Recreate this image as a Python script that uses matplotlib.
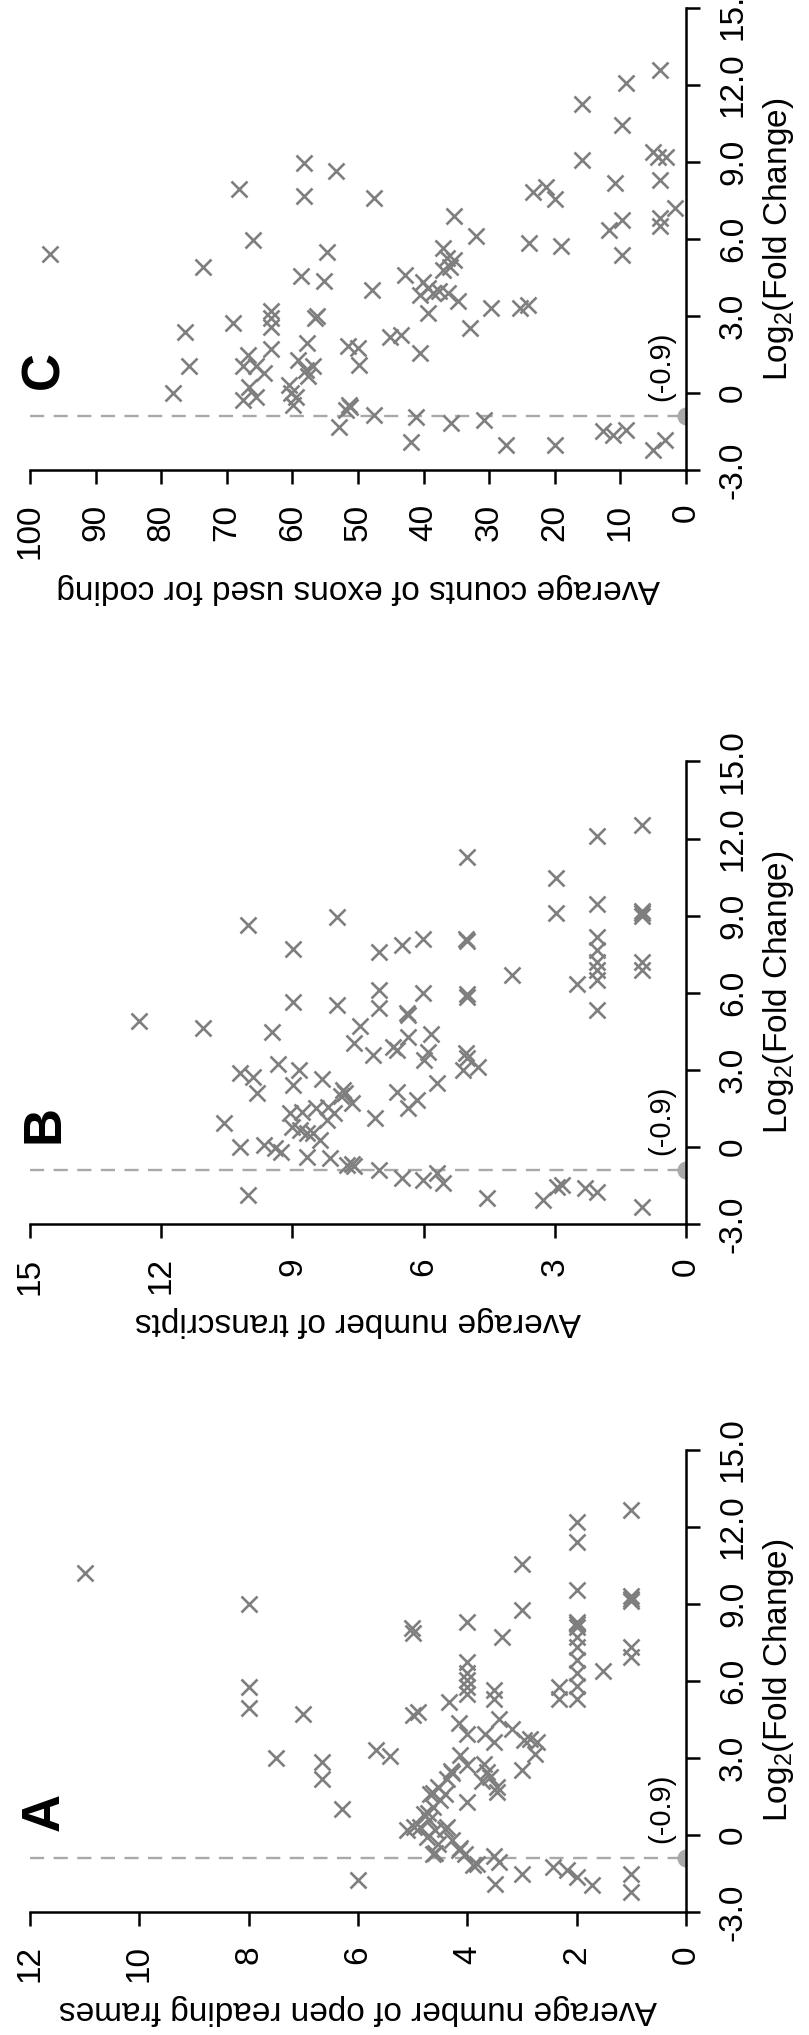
import numpy as np
import matplotlib
matplotlib.use('Agg')
import matplotlib.pyplot as plt
from matplotlib.transforms import blended_transform_factory

plt.rcParams['font.family'] = ['Liberation Sans', 'DejaVu Sans']
plt.rcParams['mathtext.fontset'] = 'custom'
plt.rcParams['mathtext.rm'] = 'Liberation Sans'

# Panel A: average number of open reading frames vs log2 fold change
a_count = [11.0, 8.0, 8.0, 8.0, 7.0, 7.5, 6.66, 6.66, 6.3, 6.0, 5.67, 5.41,
           5.0, 5.02, 4.99, 4.9, 4.33,
           4.0, 4.0, 4.0, 4.0, 4.0, 4.0, 4.0, 4.0, 4.0, 4.16, 4.13,
           3.0, 3.0, 3.0, 3.0, 3.37,
           2.0, 2.0, 2.0, 2.0, 2.0, 2.0, 2.0, 2.0, 2.0, 2.0, 2.0, 2.0, 2.0,
           1.0, 1.0, 1.0, 1.0, 1.0, 1.0, 1.0, 1.0,
           1.51, 2.33, 2.33, 3.52, 3.52,
           3.43, 3.19, 3.67, 3.52,
           2.97, 2.85, 2.73, 2.76,
           3.7, 3.64, 3.73, 3.58, 3.46, 3.46,
           4.3, 4.37, 4.28,
           2.43, 2.18, 1.72, 3.49, 3.83, 3.52, 3.43, 4.16, 4.04, 4.62, 4.28,
           4.53, 4.74, 4.59, 4.41, 4.86, 5.1, 4.98, 4.71, 4.8, 4.62, 4.5,
           4.68, 4.41, 4.53, 4.63, 4.72, 4.37, 4.59, 4.13, 3.89]
a_lfc = [10.2, 9.0, 5.75, 4.94, 4.70, 3.0, 2.85, 2.16, 1.0, -1.76, 3.3, 3.07,
         7.85, 8.05, 4.67, 4.78, 5.17,
         8.28, 6.73, 6.30, 6.03, 5.75, 5.50, 3.94, 2.71, 1.28, 4.35, 3.1,
         10.55, 8.74, 2.51, -1.51, 7.70,
         12.17, 11.40, 9.52, 8.3, 8.2, 8.1, 7.7, 7.3, 6.8, 6.3, 5.8, 5.3, -1.64,
         12.63, 9.3, 9.2, 9.1, 7.31, 6.92, -1.51, -2.22,
         6.40, 5.75, 5.30, 5.63, 5.30,
         4.52, 4.13, 3.94, 3.61,
         3.68, 3.74, 3.61, 3.16,
         2.77, 2.45, 2.12, 2.25, 1.86, 1.67,
         2.5, 2.19, 2.41,
         -1.25, -1.38, -1.96, -1.9, -1.12, -0.8, -1.05, -0.6, -0.73, -0.73, -0.21,
         -0.34, -0.08, 0.18, 0.24, 0.31, 0.18, 0.31, 0.57, 0.83, 1.09, 1.35,
         1.6, 1.6, 1.86, 1.63, 0.85, 0.31, -0.70, -0.51, -1.17]

# Panel B: average number of transcripts vs log2 fold change
b_count = [12.5, 11.04, 10.02, 10.56, 10.21, 10.02, 10.21, 9.89, 9.82, 9.66, 9.4, 9.25,
           9.47, 9.34, 8.99, 8.99, 8.86, 8.99, 8.33, 7.99, 7.99,
           9.05, 8.79, 8.45, 8.18, 8.06, 9.02, 8.83, 8.67, 8.52, 8.37, 8.22, 8.67, 8.14,
           7.85, 7.8, 7.9, 7.64, 7.76, 7.64, 7.6, 7.45, 7.59, 7.16, 7.11, 7.03, 7.03,
           7.03, 7.03,
           6.69, 6.62, 6.62, 6.5, 6.5, 6.35, 6.35, 6.39, 6.35, 6.16, 6.02, 6.02, 6.02,
           6.0, 5.89, 5.82, 5.7, 5.55, 5.69,
           5.02, 5.0, 5.0, 5.0, 5.0, 5.02, 5.0, 5.09, 4.75, 4.56,
           3.99, 3.26, 2.97, 2.97, 2.96, 2.84, 2.5, 2.31, 2.03,
           2.03, 2.03, 2.03, 2.03, 2.03, 2.03, 2.03, 2.03,
           1.01, 1.01, 1.01, 1.01, 1.01, 1.01, 1.01]
b_lfc = [4.9, 4.62, 8.64, 0.92, 0.01, -1.87, 2.87, 2.74, 2.09, 0.08, -0.05, -0.18,
         4.49, 3.23, 7.69, 5.65, 3.0, 2.41, 2.63, 8.96, 5.53,
         1.31, 1.37, 1.5, 1.57, 1.31, 0.79, 0.66, 0.53, 0.53, 0.27, 1.05, -0.38, -0.44,
         2.2, 2.1, 2.0, 1.73, -0.7, -0.65, -0.75, 4.71, 4.03, 3.58, 1.12, 7.6, 6.11,
         5.4, -0.9,
         3.9, 3.77, 2.15, 7.86, -1.22, 4.29, 5.14, 5.2, 1.5, 1.83, 8.08, 5.98, -1.28,
         3.39, 3.71, 4.4, -1.02, -1.41, 2.5,
         8.1, 8.0, 5.85, 5.95, 11.30, 3.65, 3.45, 3.0, 3.13, -2.0,
         6.7, -2.06, 10.45, 9.09, -1.54, -1.48, 6.34, -1.6, -1.74,
         12.10, 9.45, 8.18, 7.66, 7.2, 6.9, 6.5, 5.33,
         12.53, 9.2, 9.0, 9.1, 7.2, 6.9, -2.32]

# Panel C: average counts of exons used for coding vs log2 fold change
c_count = [97.0, 78.2, 76.3, 75.8, 73.7, 69.1, 68.2, 67.6, 66.8, 66.6, 67.6, 65.5,
           65.5, 64.3, 65.95,
           63.3, 63.3, 63.3, 63.3,
           60.5, 60.2, 59.9, 59.4, 59.2, 58.7, 58.3, 58.3, 57.8, 57.9, 57.7, 56.9,
           56.5, 56.2, 55.2, 54.7, 53.3,
           52.9, 51.6, 51.4, 51.8, 51.2, 50.0, 49.8, 47.8, 47.5, 47.5,
           45.2, 43.4,
           42.9, 42.0, 41.1, 40.6, 40.1, 40.6, 39.3, 39.3, 38.6, 37.6, 36.3, 37.0,
           36.5, 35.3, 37.0, 36.0, 35.3, 35.8, 34.8, 33.0, 32.0, 30.8, 29.8, 27.5,
           25.3, 24.1, 23.9, 23.4, 21.3, 19.9, 19.9, 19.0, 15.8, 15.8, 12.6, 11.7,
           11.1, 10.8, 9.8, 9.8, 9.8, 9.1, 9.1, 5.0, 4.2, 3.0, 4.0, 4.0, 4.0, 4.0,
           1.7, 5.0, 3.2]
c_lfc = [5.4, 0.0, 2.4, 1.04, 4.93, 2.72, 7.94, 1.04, 1.49, 0.26, -0.26, -0.13,
         1.04, 0.78, 5.97,
         3.18, 2.92, 2.59, 1.71,
         0.32, 0.0, -0.45, -0.13, 1.3, 4.57, 8.95, 7.68, 1.95, 0.9, 0.65, 1.04,
         2.92, 3.0, 4.35, 5.51, 8.63,
         -1.3, 1.82, -0.45, -0.65, -0.55, 1.75, 1.1, 4.02, 7.59, -0.84,
         2.2, 2.27,
         4.6, -1.88, -0.91, 1.56, 4.34, 3.83, 4.09, 3.11, 3.89, 3.96, 3.89, 5.64,
         5.25, 5.19, 4.8, 4.93, 6.9, -1.17, 3.57, 2.53, 6.1, -1.06, 3.31, -2.01,
         3.31, 3.44, 5.84, 7.81, 8.04, 7.56, -2.01, 5.73, 11.26, 9.08, -1.49, 6.36,
         -1.62, 8.17, 10.44, 6.74, 5.38, 12.06, -1.43, 9.4, 9.21, 9.21, 12.56, 8.3,
         6.81, 6.49,
         7.2, -2.2, -1.82]

lfc_ticks = [-3, 0, 3, 6, 9, 12, 15]
lfc_labels = ['-3.0', '0', '3.0', '6.0', '9.0', '12.0', '15.0']
cutoff = -0.9

MARK = '#7f7f7f'
LINE = '#a9a9a9'


# The whole figure is drawn turned a quarter turn counter-clockwise:
# counts run right -> left along the bottom, log2 fold change runs up the right side
def draw_panel(fig, bottom, counts, lfc, cmax, cticks, clabel, letter, clabelpad):

  ax = fig.add_axes([0.0371, bottom, 0.8109, 0.2273])
  mixed = blended_transform_factory(ax.transAxes, ax.transData)

  ax.axhline(cutoff, color=LINE, lw=1.7, ls=(0, (6, 4)), zorder=1)
  ax.plot([0], [cutoff], 'o', color=LINE, ms=12, clip_on=True, zorder=1)
  ax.plot(counts, lfc, 'x', color=MARK, ms=12, mew=1.9, ls='none', zorder=2)

  ax.set_xlim(cmax, 0)
  ax.set_ylim(-3, 15)

  for side in ['top', 'left']:
    ax.spines[side].set_visible(False)
  for side in ['right', 'bottom']:
    ax.spines[side].set_linewidth(1.8)
    ax.spines[side].set_zorder(3)

  ax.yaxis.tick_right()
  ax.set_yticks(lfc_ticks)
  ax.set_yticklabels(lfc_labels, rotation=90, va='center')
  ax.set_xticks(cticks)
  ax.set_xticklabels([str(t) for t in cticks], rotation=90)
  ax.tick_params(axis='y', length=10, width=1.8, pad=13, labelsize=24)
  ax.tick_params(axis='x', length=10, width=1.8, pad=14, labelsize=24)

  ax.yaxis.set_label_position('right')
  ax.set_ylabel('Log$_\\mathrm{2}$(Fold Change)', fontsize=24, labelpad=9)
  ax.set_xlabel(clabel, fontsize=24, rotation=180, labelpad=clabelpad)

  ax.text(0.962, 1.05, '(-0.9)', rotation=90, fontsize=21, ha='center', va='center',
          transform=mixed)
  ax.text(0.022, 0.9, letter, rotation=90, fontsize=38, fontweight='bold',
          ha='center', va='center', transform=mixed)
  return ax


def main():

  fig = plt.figure(figsize=(8.09, 20.35), dpi=100)

  draw_panel(fig, 0.7689, c_count, c_lfc, 100, list(range(0, 101, 10)),
             'Average counts of exons used for coding', 'C', 10)
  draw_panel(fig, 0.3985, b_count, b_lfc, 15, [0, 3, 6, 9, 12, 15],
             'Average number of transcripts', 'B', 8)
  draw_panel(fig, 0.0604, a_count, a_lfc, 12, [0, 2, 4, 6, 8, 10, 12],
             'Average number of open reading frames', 'A', 8)

  fig.savefig('out.png', dpi=100)


if __name__ == '__main__':
  main()
